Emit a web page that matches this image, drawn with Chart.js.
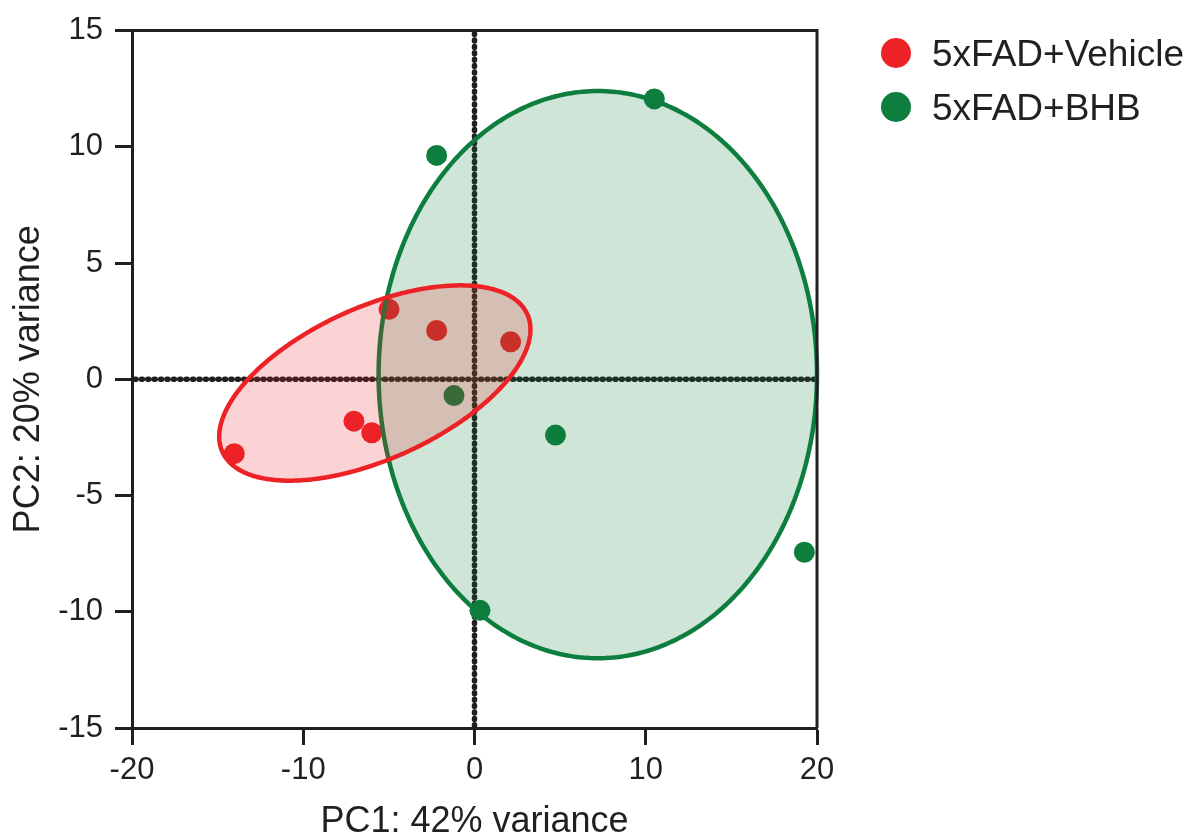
<!DOCTYPE html>
<html><head><meta charset="utf-8">
<script src="https://cdn.jsdelivr.net/npm/chart.js@4.4.0/dist/chart.umd.min.js"></script>
<style>html,body{margin:0;padding:0;background:#fff;} #wrap{width:1192px;height:838px;position:relative}</style>
</head><body><div id="wrap"><canvas id="c" width="1192" height="838"></canvas></div>
<script>
// ---- data ----
const seriesNames = ['5xFAD+Vehicle', '5xFAD+BHB'];
const vehicleX = [-14.03, -7.04, -6.0, -4.99, -2.21, 2.11];
const vehicleY = [-3.2, -1.8, -2.3, 3.01, 2.1, 1.61];
const bhbX = [-2.21, 10.5, -1.2, 4.73, 0.32, 19.26];
const bhbY = [9.63, 12.06, -0.7, -2.4, -9.94, -7.44];
// confidence ellipses: [centre x, centre y, semi-axis a, semi-axis b, angle (deg)]
const vehicleEllipse = [-5.82, -0.16, 9.42, 3.39, 16.4];
const bhbEllipse = [7.2, 0.2, 12.8, 12.2, 0];
const xTicks = [-20, -10, 0, 10, 20];
const yTicks = [-15, -10, -5, 0, 5, 10, 15];
const xTitle = 'PC1: 42% variance';
const yTitle = 'PC2: 20% variance';

// ---- styles ----
const RED = '#ED2226';
const GREEN = '#0D7E3E';
const RED_FILL = 'rgba(237,34,38,0.2)';
const GREEN_FILL = 'rgba(13,126,62,0.2)';
const INK = '#231f20';
const FONT = "'Liberation Sans', Arial, Helvetica, sans-serif";

function pts(xs, ys) { return xs.map((x, i) => ({x: x, y: ys[i]})); }

function ellipsePath(ctx, sx, sy, e) {
  const [cx, cy, a, b, ang] = e;
  const phi = ang * Math.PI / 180;
  ctx.beginPath();
  for (let i = 0; i <= 360; i++) {
    const t = i * Math.PI / 180;
    const dx = a * Math.cos(t), dy = b * Math.sin(t);
    const x = cx + dx * Math.cos(phi) - dy * Math.sin(phi);
    const y = cy + dx * Math.sin(phi) + dy * Math.cos(phi);
    const px = sx.getPixelForValue(x), py = sy.getPixelForValue(y);
    if (i === 0) ctx.moveTo(px, py); else ctx.lineTo(px, py);
  }
  ctx.closePath();
}

const pcaPlugin = {
  id: 'pca',
  beforeDatasetsDraw(chart) {
    const {ctx, chartArea: ca, scales: {x, y}} = chart;
    ctx.save();
    ctx.strokeStyle = INK;
    ctx.lineWidth = 5.5;
    ctx.lineCap = 'round';
    ctx.setLineDash([1, 5.4]);
    const x0 = x.getPixelForValue(0), y0 = y.getPixelForValue(0);
    ctx.beginPath(); ctx.moveTo(x0, ca.top + 3); ctx.lineTo(x0, ca.bottom); ctx.stroke();
    ctx.beginPath(); ctx.moveTo(ca.left + 3, y0); ctx.lineTo(ca.right, y0); ctx.stroke();
    ctx.restore();
  },
  afterDatasetsDraw(chart) {
    const {ctx, chartArea: ca, scales: {x, y}} = chart;
    ctx.save();
    ctx.lineWidth = 4.5;
    ellipsePath(ctx, x, y, bhbEllipse);
    ctx.fillStyle = GREEN_FILL; ctx.fill();
    ctx.strokeStyle = GREEN; ctx.stroke();
    ellipsePath(ctx, x, y, vehicleEllipse);
    ctx.fillStyle = RED_FILL; ctx.fill();
    ctx.strokeStyle = RED; ctx.stroke();
    // top and right frame
    ctx.strokeStyle = INK; ctx.lineWidth = 3;
    ctx.beginPath();
    ctx.moveTo(ca.left, ca.top); ctx.lineTo(ca.right, ca.top); ctx.lineTo(ca.right, ca.bottom);
    ctx.stroke();
    ctx.restore();
  },
  afterDraw(chart) {
    const {ctx} = chart;
    ctx.save();
    const colors = [RED, GREEN];
    ctx.font = '37px ' + FONT;
    ctx.textBaseline = 'middle';
    ctx.textAlign = 'left';
    seriesNames.forEach((name, i) => {
      const cy = 53 + i * 54;
      ctx.fillStyle = colors[i];
      ctx.beginPath(); ctx.arc(896, cy, 15, 0, Math.PI * 2); ctx.fill();
      ctx.fillStyle = INK;
      ctx.fillText(name, 932, cy + 3);
    });
    ctx.restore();
  }
};

const tickFont = {family: FONT, size: 31};
const titleFont = {family: FONT, size: 36};

new Chart(document.getElementById('c'), {
  type: 'scatter',
  data: {
    datasets: [
      {label: seriesNames[0], data: pts(vehicleX, vehicleY), backgroundColor: RED, borderWidth: 0, pointRadius: 10.5, pointHoverRadius: 10.5},
      {label: seriesNames[1], data: pts(bhbX, bhbY), backgroundColor: GREEN, borderWidth: 0, pointRadius: 10.5, pointHoverRadius: 10.5}
    ]
  },
  options: {
    responsive: false,
    animation: false,
    devicePixelRatio: 1,
    layout: {padding: {left: 0, top: 28, right: 375, bottom: 0}},
    plugins: {legend: {display: false}, tooltip: {enabled: false}},
    scales: {
      x: {
        type: 'linear', min: -20, max: 20,
        afterBuildTicks: s => { s.ticks = xTicks.map(v => ({value: v})); },
        afterFit: s => { s.height = 110; },
        ticks: {font: tickFont, color: INK, padding: 7, maxRotation: 0},
        grid: {drawOnChartArea: false, drawTicks: true, tickLength: 17, tickWidth: 3, tickColor: INK},
        border: {display: true, color: INK, width: 3},
        title: {display: true, text: xTitle, font: titleFont, color: INK, padding: {top: 0, bottom: -6}}
      },
      y: {
        type: 'linear', min: -15, max: 15,
        afterBuildTicks: s => { s.ticks = yTicks.map(v => ({value: v})); },
        afterFit: s => { s.width = 132; },
        ticks: {font: tickFont, color: INK, padding: 12},
        grid: {drawOnChartArea: false, drawTicks: true, tickLength: 17, tickWidth: 3, tickColor: INK},
        border: {display: true, color: INK, width: 3},
        title: {display: true, text: yTitle, font: titleFont, color: INK, padding: {top: 7, bottom: 0}}
      }
    }
  },
  plugins: [pcaPlugin]
});
</script></body></html>
